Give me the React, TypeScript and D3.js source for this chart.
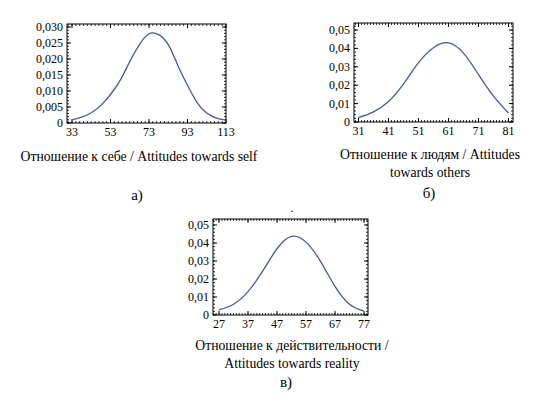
import * as d3 from "d3";

// values
const selfX = [33, 38, 43, 48, 53, 58, 63, 68, 73, 78, 83, 88, 93, 98, 103, 108, 113];
const selfY = [0.001, 0.0018, 0.0032, 0.0055, 0.0089, 0.0133, 0.0192, 0.0245, 0.0279, 0.0276, 0.0245, 0.018, 0.0118, 0.0064, 0.0031, 0.0015, 0.0009];
const selfXTicks = [33, 53, 73, 93, 113];
const selfYTicks = [0, 0.005, 0.01, 0.015, 0.02, 0.025, 0.03];

const othersX = [31, 36, 41, 46, 51, 56, 61, 66, 71, 76, 81];
const othersY = [0.0024, 0.0055, 0.0111, 0.0207, 0.0323, 0.0404, 0.043, 0.0374, 0.0258, 0.0141, 0.0049];
const othersXTicks = [31, 41, 51, 61, 71, 81];
const othersYTicks = [0, 0.01, 0.02, 0.03, 0.04, 0.05];

const realityX = [27, 32, 37, 42, 47, 52, 57, 62, 67, 72, 77];
const realityY = [0.0029, 0.006, 0.013, 0.0242, 0.0368, 0.0437, 0.0405, 0.0298, 0.0159, 0.006, 0.0021];
const realityXTicks = [27, 37, 47, 57, 67, 77];
const realityYTicks = [0, 0.01, 0.02, 0.03, 0.04, 0.05];

const FONT = "Liberation Serif";
const LINE = "#4b5896";

const fmt = (v: number, digits: number) => (v === 0 ? "0" : v.toFixed(digits).replace(".", ","));

interface PanelProps {
  xs: number[];
  ys: number[];
  xTicks: number[];
  yTicks: number[];
  digits: number;
  xDomain: [number, number];
  xRange: [number, number];
  yMax: number;
  yRange: [number, number];
  frame: { left: number; right: number; top: number; bottom: number };
  xMinorStep: number;
  yMinorStep: number;
  title: string[];
  titleX: number;
  titleY: number;
  letter: string;
  letterX: number;
  letterY: number;
}

function Panel(p: PanelProps) {
  const x = d3.scaleLinear().domain(p.xDomain).range(p.xRange);
  const y = d3.scaleLinear().domain([0, p.yMax]).range(p.yRange);
  const { left, right, top, bottom } = p.frame;

  const pts = p.xs.map((v, i) => [v, p.ys[i]] as [number, number]);
  const line = d3
    .line<[number, number]>()
    .x((d) => x(d[0]))
    .y((d) => y(d[1]))
    .curve(d3.curveNatural);

  const xMinor = d3.range(Math.ceil(x.invert(left)), x.invert(right), p.xMinorStep);
  const yMinor = d3.range(0, y.invert(top), p.yMinorStep);
  const txt = { fontFamily: FONT, fill: "#000" };

  return (
    <g>
      <rect x={left} y={top} width={right - left} height={bottom - top} fill="none" stroke="#000" strokeWidth={1} />
      {xMinor.map((v, i) => (
        <g key={"xm" + i} stroke="#000" strokeWidth={0.8}>
          <line x1={x(v)} x2={x(v)} y1={bottom} y2={bottom - 2} />
          <line x1={x(v)} x2={x(v)} y1={top} y2={top + 2} />
        </g>
      ))}
      {yMinor.map((v, i) => (
        <g key={"ym" + i} stroke="#000" strokeWidth={0.8}>
          <line x1={left} x2={left + 2} y1={y(v)} y2={y(v)} />
          <line x1={right} x2={right - 2} y1={y(v)} y2={y(v)} />
        </g>
      ))}
      {p.xTicks.map((v) => (
        <g key={"xt" + v}>
          <line x1={x(v)} x2={x(v)} y1={bottom} y2={bottom - 4} stroke="#000" />
          <line x1={x(v)} x2={x(v)} y1={top} y2={top + 4} stroke="#000" />
          <text x={x(v)} y={bottom + 13} textAnchor="middle" fontSize={12} style={txt}>
            {v}
          </text>
        </g>
      ))}
      {p.yTicks.map((v) => (
        <g key={"yt" + v}>
          <line x1={left} x2={left + 4} y1={y(v)} y2={y(v)} stroke="#000" />
          <line x1={right} x2={right - 4} y1={y(v)} y2={y(v)} stroke="#000" />
          <text x={left - 4} y={y(v) + 4} textAnchor="end" fontSize={12} style={txt}>
            {fmt(v, p.digits)}
          </text>
        </g>
      ))}
      <path d={line(pts) ?? ""} fill="none" stroke={LINE} strokeWidth={1.3} />
      {p.title.map((t, i) => (
        <text key={t} x={p.titleX} y={p.titleY + i * 18} textAnchor="middle" fontSize={13.7} style={txt}>
          {t}
        </text>
      ))}
      <text x={p.letterX} y={p.letterY} textAnchor="middle" fontSize={15} style={txt}>
        {p.letter}
      </text>
    </g>
  );
}

export default function App() {
  return (
    <svg
      width={536}
      height={398}
      style={{ position: "absolute", left: 0, top: 0, background: "#fff" }}
    >
      <Panel
        xs={selfX}
        ys={selfY}
        xTicks={selfXTicks}
        yTicks={selfYTicks}
        digits={3}
        xDomain={[33, 113]}
        xRange={[72, 226]}
        yMax={0.03}
        yRange={[123, 27]}
        frame={{ left: 67, right: 226, top: 24, bottom: 123 }}
        xMinorStep={2}
        yMinorStep={0.001}
        title={["Отношение к себе / Attitudes towards self"]}
        titleX={139}
        titleY={161}
        letter="а)"
        letterX={137}
        letterY={200}
      />
      <Panel
        xs={othersX}
        ys={othersY}
        xTicks={othersXTicks}
        yTicks={othersYTicks}
        digits={2}
        xDomain={[31, 81]}
        xRange={[358.5, 508.5]}
        yMax={0.05}
        yRange={[122, 30]}
        frame={{ left: 354, right: 513, top: 23, bottom: 122 }}
        xMinorStep={1}
        yMinorStep={0.002}
        title={["Отношение к людям / Attitudes", "towards others"]}
        titleX={430}
        titleY={159}
        letter="б)"
        letterX={429}
        letterY={198}
      />
      <Panel
        xs={realityX}
        ys={realityY}
        xTicks={realityXTicks}
        yTicks={realityYTicks}
        digits={2}
        xDomain={[27, 77]}
        xRange={[219, 364]}
        yMax={0.05}
        yRange={[315, 225]}
        frame={{ left: 213, right: 368, top: 219, bottom: 315 }}
        xMinorStep={1}
        yMinorStep={0.002}
        title={["Отношение к действительности /", "Attitudes towards reality"]}
        titleX={292}
        titleY={350}
        letter="в)"
        letterX={286}
        letterY={387}
      />
      <text x={292} y={212} fontSize={12} textAnchor="middle" style={{ fontFamily: FONT, fill: "#000" }}>
        .
      </text>
    </svg>
  );
}
